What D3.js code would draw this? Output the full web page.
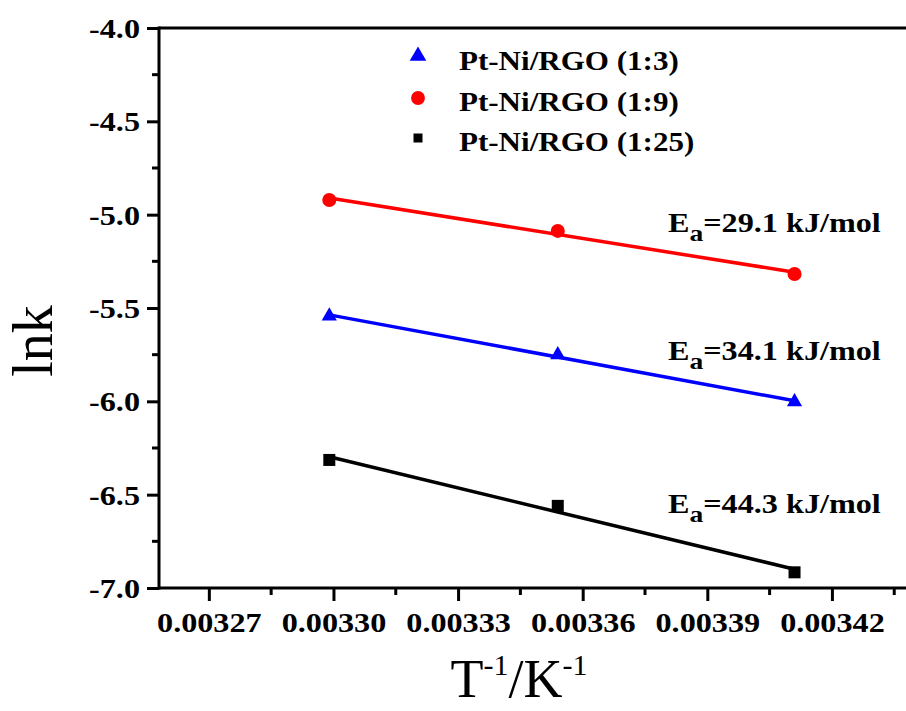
<!DOCTYPE html>
<html><head><meta charset="utf-8">
<script src="https://cdn.jsdelivr.net/npm/d3@7"></script>
<style>
body{margin:0;background:#fff;}
text{font-family:"Liberation Serif","Times New Roman",serif;}
</style></head>
<body><svg id="c" width="906" height="711"></svg>
<script>
// ---- data ----
const invT = [0.003299, 0.003354, 0.003411];
const series = ["Pt-Ni/RGO (1:3)", "Pt-Ni/RGO (1:9)", "Pt-Ni/RGO (1:25)"];
const lnk_1_3  = [-5.543, -5.751, -6.003];
const lnk_1_9  = [-4.921, -5.087, -5.318];
const lnk_1_25 = [-6.314, -6.560, -6.916];
const eaLabels = ["34.1", "29.1", "44.3"];
const xTicks = [0.00327, 0.00330, 0.00333, 0.00336, 0.00339, 0.00342];
const yTicks = [-7.0, -6.5, -6.0, -5.5, -5.0, -4.5, -4.0];

const colors = ["#0000ff", "#ff0000", "#000000"];
const symbols = [d3.symbolTriangle, d3.symbolCircle, d3.symbolSquare];
const allVals = [lnk_1_3, lnk_1_9, lnk_1_25];

const svg = d3.select("#c");
const SX = 1.15; // horizontal stretch of the original raster text
const x = d3.scaleLinear().domain([0.003258, 0.00344]).range([159, 915]);
const y = d3.scaleLinear().domain([-7, -4]).range([588, 28]);

function stretch(sel){
  sel.each(function(){
    const t = d3.select(this);
    const xx = +t.attr("x") || 0;
    t.attr("x", 0).attr("transform", `translate(${xx},0) scale(${SX},1)`);
  });
}

// minor ticks
const xMinor = d3.range(0.003255, 0.00344, 0.00003).filter(v => v > 0.003258);
const yMinor = d3.range(-6.75, -4, 0.5);

// top frame line
svg.append("line").attr("x1", 159).attr("x2", 915).attr("y1", y(-4)).attr("y2", y(-4))
  .attr("stroke", "#000").attr("stroke-width", 3);

// x axis
const gx = svg.append("g").attr("transform", `translate(0,${y(-7)})`)
  .call(d3.axisBottom(x).tickValues(xTicks).tickFormat(d3.format(".5f")).tickSize(13).tickPadding(0));
gx.select(".domain").attr("stroke-width", 3).attr("d", "M159,0H915");
gx.selectAll(".tick line").attr("stroke-width", 3);
gx.selectAll(".tick text").attr("y", 44).attr("dy", 0).attr("font-size", 28).attr("font-weight", "bold")
  .attr("font-family", '"Liberation Serif","Times New Roman",serif').attr("fill", "#000").call(stretch);
gx.selectAll(".minor").data(xMinor).enter().append("line").attr("class", "minor")
  .attr("x1", d => x(d)).attr("x2", d => x(d)).attr("y1", 0).attr("y2", 7)
  .attr("stroke", "#000").attr("stroke-width", 3);

// y axis
const gy = svg.append("g").attr("transform", `translate(${x(0.003258)},0)`)
  .call(d3.axisLeft(y).tickValues(yTicks).tickFormat(d => d3.format(".1f")(d).replace("\u2212", "-")).tickSize(12).tickPadding(7));
gy.select(".domain").attr("stroke-width", 3).attr("d", `M0,${y(-7)+1.5}V${y(-4)-1.5}`);
gy.selectAll(".tick line").attr("stroke-width", 3);
gy.selectAll(".tick text").attr("dy", "0.34em").attr("font-size", 28).attr("font-weight", "bold")
  .attr("font-family", '"Liberation Serif","Times New Roman",serif').attr("fill", "#000").call(stretch);
gy.selectAll(".minor").data(yMinor).enter().append("line").attr("class", "minor")
  .attr("x1", -7).attr("x2", 0).attr("y1", d => y(d)).attr("y2", d => y(d))
  .attr("stroke", "#000").attr("stroke-width", 3);

// fitted lines
allVals.forEach((vals, i) => {
  const mx = d3.mean(invT), my = d3.mean(vals);
  const slope = d3.sum(invT, (v, k) => (v - mx) * (vals[k] - my)) / d3.sum(invT, v => (v - mx) ** 2);
  const fit = v => my + slope * (v - mx);
  const x0 = invT[0], x1 = invT[invT.length - 1];
  svg.append("line").attr("x1", x(x0)).attr("y1", y(fit(x0))).attr("x2", x(x1)).attr("y2", y(fit(x1)))
    .attr("stroke", colors[i]).attr("stroke-width", 3.5);
});

// markers
const sizes = [100, 155, 144];
allVals.forEach((vals, i) => {
  svg.append("g").selectAll("path").data(vals).enter().append("path")
    .attr("d", d3.symbol().type(symbols[i]).size(sizes[i]))
    .attr("transform", (d, k) => `translate(${x(invT[k])},${y(d)})`)
    .attr("fill", colors[i]);
});

// legend
const legY = [56, 98, 138];
const legBase = [70, 111, 151];
const legSizes = [120, 150, 81];
series.forEach((s, i) => {
  svg.append("path").attr("d", d3.symbol().type(symbols[i]).size(legSizes[i]))
    .attr("transform", `translate(418,${legY[i]})`).attr("fill", colors[i]);
  svg.append("text").attr("x", 459).attr("y", legBase[i]).attr("font-size", 27).attr("font-weight", "bold")
    .text(s).call(stretch);
});

// Ea labels
const eaBase = [360, 232, 513];
eaLabels.forEach((e, i) => {
  const t = svg.append("text").attr("y", eaBase[i]).attr("font-size", 28).attr("font-weight", "bold")
    .attr("transform", `translate(668,0) scale(${SX},1)`);
  t.append("tspan").text("E");
  t.append("tspan").attr("font-size", 24).attr("dy", 9).text("a");
  t.append("tspan").attr("dy", -9).text(`=${e} kJ/mol`);
});

// axis titles
const xt = svg.append("text").attr("x", 519).attr("y", 697).attr("text-anchor", "middle").attr("font-size", 54);
xt.append("tspan").text("T");
xt.append("tspan").attr("font-size", 30).attr("dy", -22).text("-1");
xt.append("tspan").attr("dy", 22).text("/K");
xt.append("tspan").attr("font-size", 30).attr("dy", -22).text("-1");

svg.append("text").attr("transform", "translate(52,341) rotate(-90)").attr("text-anchor", "middle")
  .attr("font-size", 56).text("lnk");
</script></body></html>
